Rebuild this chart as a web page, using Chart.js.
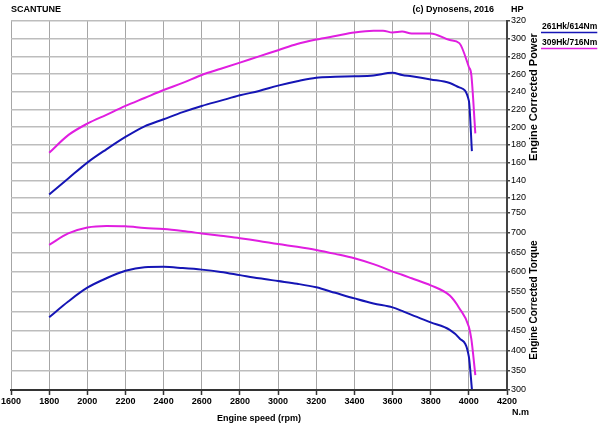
<!DOCTYPE html>
<html>
<head>
<meta charset="utf-8">
<script src="https://cdn.jsdelivr.net/npm/chart.js@4/dist/chart.umd.min.js"></script>
<style>
html,body{margin:0;padding:0;background:#fff;}
#wrap{width:600px;height:424px;position:relative;}
</style>
</head>
<body>
<div id="wrap"><canvas id="c" width="600" height="424"></canvas></div>
<script>
// ---- data ----
const rpmTicks = [1600,1800,2000,2200,2400,2600,2800,3000,3200,3400,3600,3800,4000,4200];
const powerTicks = [120,140,160,180,200,220,240,260,280,300,320];
const torqueTicks = [300,350,400,450,500,550,600,650,700,750];

const labelA = '261Hk/614Nm';
const rpmA = [1800,1900,2000,2100,2200,2300,2400,2500,2600,2700,2800,2900,3000,3100,3200,3300,3400,3500,3600,3650,3700,3800,3900,3950,4000,4016];
const powerA = [124,142,160,175,189,201,209,217,224,230,236,241,247,252,256,257,257.5,258.5,261.5,259,257.5,254,250,245,230,173];
const torqueA = [485,525,560,584,603,612,613,610,606,600,592,584,577,570,561,547,533,520,510,501,491,472,453,432,385,302];

const labelB = '309Hk/716Nm';
const rpmB = [1800,1900,2000,2100,2200,2300,2400,2500,2600,2700,2800,2900,3000,3100,3200,3300,3400,3500,3550,3600,3650,3700,3800,3900,3950,4000,4013,4034];
const powerB = [171,191,204,214,224,233,242,250,259,266,273,280,287,294,299,303,307,309,309,307,308,306,306,298.5,295,268,259,193];
const torqueB = [669,698,713,717,716,712,709,704,698,692,686,679,671,664,656,646,635,620,611,601,593,584,566,540,508,461,430,338];

const colorA = '#1515b5';
const colorB = '#e01ee0';

function pts(xs, ys){ return xs.map((x,i)=>({x:x, y:ys[i]})); }

const FONT = '"Liberation Sans", Arial, sans-serif';

const deco = {
  id: 'deco',
  afterDraw(chart){
    const ctx = chart.ctx;
    ctx.save();
    ctx.fillStyle = '#000';
    ctx.font = 'bold 9px ' + FONT;
    ctx.textBaseline = 'middle';
    ctx.textAlign = 'left';
    ctx.fillText('SCANTUNE', 11, 10);
    ctx.textAlign = 'right';
    ctx.fillText('(c) Dynosens, 2016', 494, 10);
    ctx.textAlign = 'left';
    ctx.fillText('HP', 511, 10);
    ctx.fillText('N.m', 512, 413);
    ctx.textAlign = 'center';
    ctx.font = 'bold 11px ' + FONT;
    ctx.save(); ctx.translate(534, 97); ctx.rotate(-Math.PI/2); ctx.fillText('Engine Corrected Power', 0, 0); ctx.restore();
    ctx.font = 'bold 10px ' + FONT;
    ctx.save(); ctx.translate(534, 300); ctx.rotate(-Math.PI/2); ctx.fillText('Engine Corrected Torque', 0, 0); ctx.restore();
    // legend
    ctx.font = 'bold 8.5px ' + FONT;
    ctx.textAlign = 'left';
    const items = [[labelA, colorA, 27], [labelB, colorB, 43]];
    items.forEach(([t, c, y]) => {
      ctx.fillStyle = '#000';
      ctx.fillText(t, 542, y);
      const w = ctx.measureText(t).width;
      ctx.strokeStyle = c; ctx.lineWidth = 1.5;
      ctx.beginPath(); ctx.moveTo(541, y + 5.5); ctx.lineTo(542 + w, y + 5.5); ctx.stroke();
    });
    ctx.restore();
  }
};

new Chart(document.getElementById('c'), {
  type: 'line',
  data: {
    datasets: [
      {label: labelA, data: pts(rpmA, powerA), yAxisID: 'yP', borderColor: colorA, borderWidth: 2, pointRadius: 0, cubicInterpolationMode: 'monotone', fill: false},
      {label: labelB, data: pts(rpmB, powerB), yAxisID: 'yP', borderColor: colorB, borderWidth: 2, pointRadius: 0, cubicInterpolationMode: 'monotone', fill: false},
      {label: labelA + ' T', data: pts(rpmA, torqueA), yAxisID: 'yT', borderColor: colorA, borderWidth: 2, pointRadius: 0, cubicInterpolationMode: 'monotone', fill: false},
      {label: labelB + ' T', data: pts(rpmB, torqueB), yAxisID: 'yT', borderColor: colorB, borderWidth: 2, pointRadius: 0, cubicInterpolationMode: 'monotone', fill: false}
    ]
  },
  options: {
    responsive: false,
    animation: false,
    devicePixelRatio: 1,
    layout: {padding: {top: 21, left: 11, right: 0, bottom: 0}},
    plugins: {legend: {display: false}, tooltip: {enabled: false}, title: {display: false}},
    scales: {
      x: {
        type: 'linear', min: 1600, max: 4200,
        afterBuildTicks: s => { s.ticks = rpmTicks.map(v => ({value: v})); },
        afterFit: s => { s.height = 34; },
        grid: {color: '#a6a6a6', lineWidth: 1, tickLength: 5, tickColor: '#333', tickWidth: 1.5},
        border: {display: true, color: '#333', width: 2},
        ticks: {color: '#000', font: {family: FONT, size: 9, weight: 'bold'}, padding: 1, maxRotation: 0, autoSkip: false, callback: v => String(v)},
        title: {display: true, text: 'Engine speed (rpm)', color: '#000', font: {family: FONT, size: 9, weight: 'bold'}, padding: {top: 0, bottom: 0}}
      },
      yP: {
        type: 'linear', position: 'right', stack: 'right', stackWeight: 1,
        min: 111.5, max: 320,
        afterBuildTicks: s => { s.ticks = powerTicks.map(v => ({value: v})); },
        afterFit: s => { s.width = 93; },
        grid: {color: '#bdbdbd', lineWidth: 1.5, tickLength: 3, tickColor: '#444'},
        border: {display: true, color: '#444', width: 2},
        ticks: {color: '#000', font: {family: FONT, size: 9}, padding: 1, autoSkip: false, callback: v => String(v)}
      },
      yT: {
        type: 'linear', position: 'right', stack: 'right', stackWeight: 1,
        min: 300, max: 769,
        afterBuildTicks: s => { s.ticks = torqueTicks.map(v => ({value: v})); },
        afterFit: s => { s.width = 93; },
        grid: {color: '#bdbdbd', lineWidth: 1.5, tickLength: 3, tickColor: '#444'},
        border: {display: true, color: '#444', width: 2},
        ticks: {color: '#000', font: {family: FONT, size: 9}, padding: 1, autoSkip: false, callback: v => String(v)}
      }
    }
  },
  plugins: [deco]
});
</script>
</body>
</html>
